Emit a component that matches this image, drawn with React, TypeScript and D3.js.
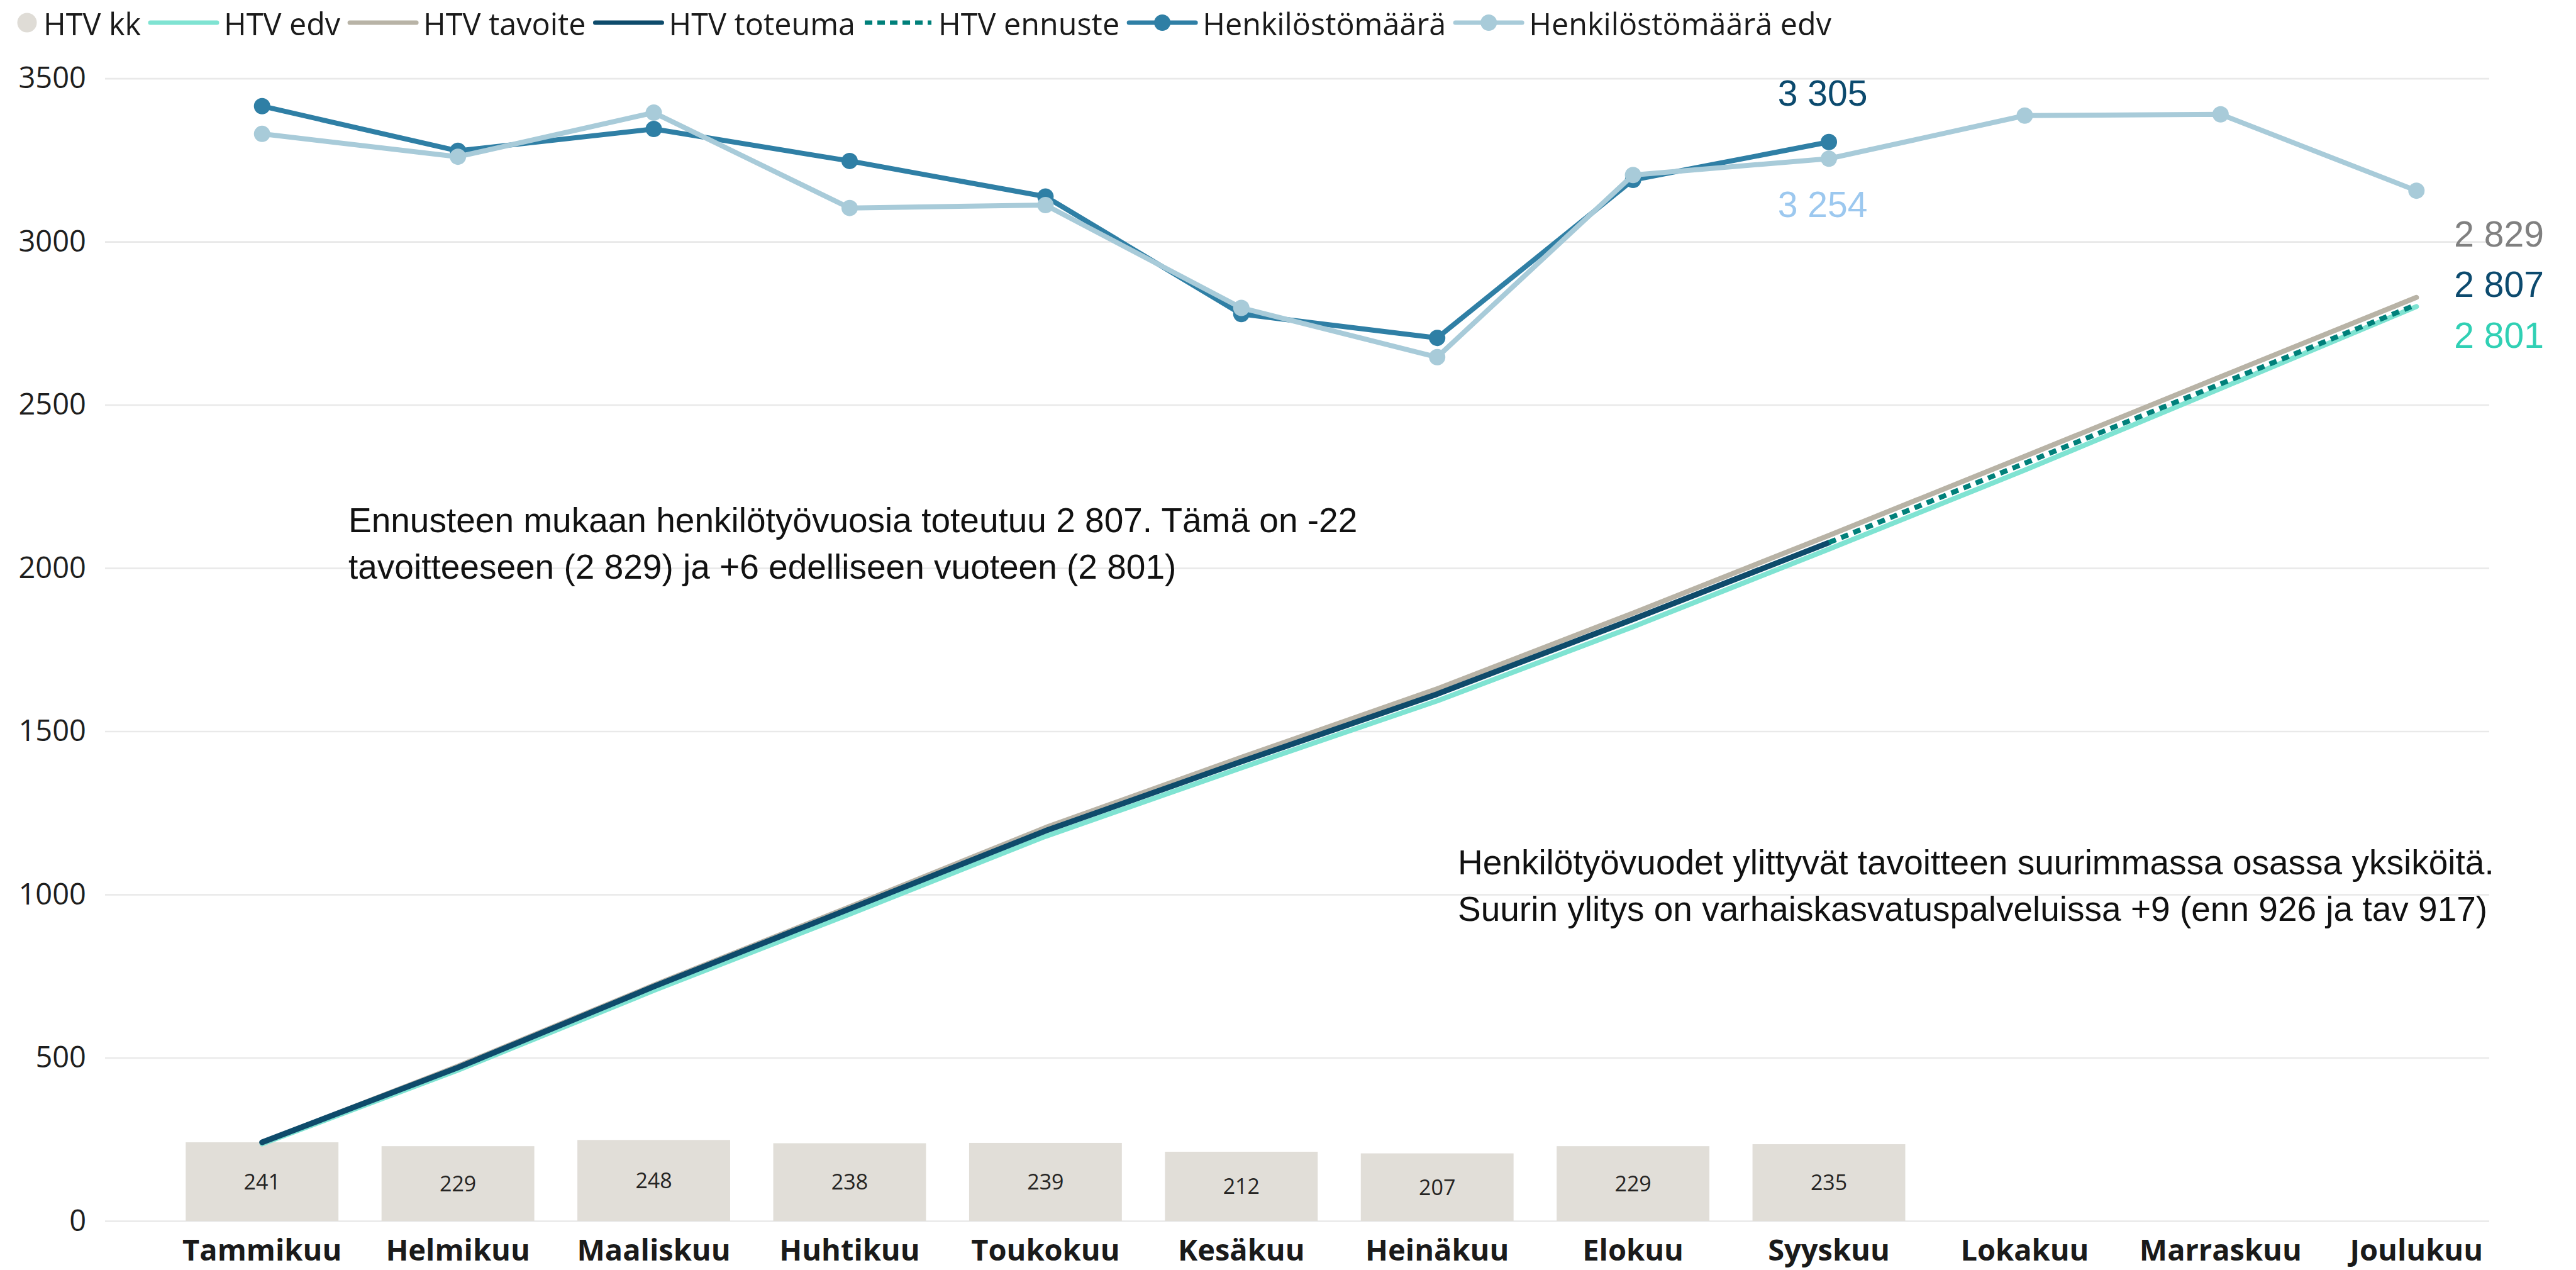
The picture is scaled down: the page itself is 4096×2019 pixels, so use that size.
import * as d3 from "d3";
import { useEffect, useRef } from "react";

const months = [
  "Tammikuu",
  "Helmikuu",
  "Maaliskuu",
  "Huhtikuu",
  "Toukokuu",
  "Kesäkuu",
  "Heinäkuu",
  "Elokuu",
  "Syyskuu",
  "Lokakuu",
  "Marraskuu",
  "Joulukuu",
];

// kuukausittaiset htv (pylväät)
const htvKk = [241, 229, 248, 238, 239, 212, 207, 229, 235];
// kumulatiiviset htv-käyrät
const htvEdv = [236, 462, 706, 940, 1178, 1388, 1593, 1820, 2058, 2300, 2550, 2801];
const htvTavoite = [240, 474, 722, 962, 1205, 1420, 1630, 1862, 2100, 2342, 2586, 2829];
const htvToteuma = [241, 470, 718, 956, 1195, 1407, 1614, 1843, 2078];
const htvEnnuste = [2078, 2321, 2564, 2807]; // Syyskuu -> Joulukuu
const henkilosto = [3415, 3278, 3345, 3247, 3138, 2778, 2705, 3189, 3305];
const henkilostoEdv = [3330, 3260, 3395, 3103, 3112, 2797, 2646, 3204, 3254, 3386, 3390, 3156];
const yTicks = [0, 500, 1000, 1500, 2000, 2500, 3000, 3500];

const legendItems = [
  { label: "HTV kk", kind: "dot", color: "#dfdcd6" },
  { label: "HTV edv", kind: "line", color: "#7fe3d2" },
  { label: "HTV tavoite", kind: "line", color: "#b8b3a6" },
  { label: "HTV toteuma", kind: "line", color: "#0e4b6b" },
  { label: "HTV ennuste", kind: "dash", color: "#00807a" },
  { label: "Henkilöstömäärä", kind: "marker", color: "#2f7fa5" },
  { label: "Henkilöstömäärä edv", kind: "marker", color: "#a8cbd9" },
];

const note1 = [
  "Ennusteen mukaan henkilötyövuosia toteutuu 2 807. Tämä on -22",
  "tavoitteeseen (2 829) ja +6 edelliseen vuoteen (2 801)",
];
const note2 = [
  "Henkilötyövuodet ylittyvät tavoitteen suurimmassa osassa yksiköitä.",
  "Suurin ylitys on varhaiskasvatuspalveluissa +9 (enn 926 ja tav 917)",
];

const W = 4096;
const H = 2019;
const uiFont = "'Open Sans', 'Noto Sans', sans-serif";
const numFont = "'Liberation Sans', Arial, sans-serif";

const fmt = (v: number) => d3.format(",")(v).replace(/,/g, " ");

export default function App() {
  const ref = useRef<SVGSVGElement>(null);

  useEffect(() => {
    document.body.style.margin = "0";
    document.body.style.overflow = "hidden";
    const svg = d3.select(ref.current);
    svg.selectAll("*").remove();

    const y = d3.scaleLinear().domain([0, 3500]).range([1941, 124.6]);
    const x = d3
      .scaleBand()
      .domain(months)
      .range([261, 3998])
      .paddingInner(0.22)
      .paddingOuter(0.11);
    const cx = (i: number) => (x(months[i]) as number) + x.bandwidth() / 2;

    //Y-akseli + ruudukko
    const gridLeft = 167;
    const gridRight = 3958;
    const yAxis = svg
      .append("g")
      .attr("transform", `translate(${gridLeft},0)`)
      .call(
        d3
          .axisLeft(y)
          .tickValues(yTicks)
          .tickSize(-(gridRight - gridLeft))
          .tickPadding(30)
          .tickFormat(d3.format("d"))
      );
    yAxis.select(".domain").remove();
    yAxis.selectAll("line").attr("stroke", "#e9e9e9").attr("stroke-width", 2.6);
    yAxis
      .selectAll("text")
      .attr("font-family", uiFont)
      .attr("font-size", 47)
      .attr("fill", "#1e1e1e");

    //X-akselin kuukaudet
    svg
      .append("g")
      .selectAll("text")
      .data(months)
      .join("text")
      .attr("x", (d, i) => cx(i))
      .attr("y", 2004)
      .attr("text-anchor", "middle")
      .attr("font-family", uiFont)
      .attr("font-weight", 700)
      .attr("font-size", 47)
      .attr("fill", "#1a1a1a")
      .text((d) => d);

    //pylväät
    svg
      .append("g")
      .selectAll("rect")
      .data(htvKk)
      .join("rect")
      .attr("x", (d, i) => x(months[i]) as number)
      .attr("y", (d) => y(d))
      .attr("width", x.bandwidth())
      .attr("height", (d) => y(0) - y(d))
      .attr("fill", "#e1ded8");

    svg
      .append("g")
      .selectAll("text")
      .data(htvKk)
      .join("text")
      .attr("x", (d, i) => cx(i))
      .attr("y", (d) => (y(d) + y(0)) / 2)
      .attr("dy", "0.36em")
      .attr("text-anchor", "middle")
      .attr("font-family", uiFont)
      .attr("font-size", 34)
      .attr("fill", "#252423")
      .text((d) => d);

    const line = (offset: number) =>
      d3
        .line<number>()
        .x((d, i) => cx(i + offset))
        .y((d) => y(d));

    const drawPath = (data: number[], offset: number, color: string, width: number, dash?: string) => {
      const p = svg
        .append("path")
        .datum(data)
        .attr("d", line(offset))
        .attr("fill", "none")
        .attr("stroke", color)
        .attr("stroke-width", width)
        .attr("stroke-linejoin", "round")
        .attr("stroke-linecap", dash ? "butt" : "round");
      if (dash) p.attr("stroke-dasharray", dash);
    };

    drawPath(htvEdv, 0, "#7fe3d2", 8);
    drawPath(htvTavoite, 0, "#b8b3a6", 8);
    drawPath(htvToteuma, 0, "#0e4b6b", 9);
    drawPath(htvEnnuste, 8, "#00807a", 8, "12 9");

    //henkilöstömäärät
    const drawMarkers = (data: number[], color: string) => {
      drawPath(data, 0, color, 8);
      svg
        .append("g")
        .selectAll("circle")
        .data(data)
        .join("circle")
        .attr("cx", (d, i) => cx(i))
        .attr("cy", (d) => y(d))
        .attr("r", 13)
        .attr("fill", color);
    };
    drawMarkers(henkilosto, "#2f7fa5");
    drawMarkers(henkilostoEdv, "#a8cbd9");

    //arvotunnisteet
    const last = henkilosto.length - 1;
    const valueLabel = (txt: string, lx: number, ly: number, color: string, anchor: string) =>
      svg
        .append("text")
        .attr("x", lx)
        .attr("y", ly)
        .attr("text-anchor", anchor)
        .attr("font-family", numFont)
        .attr("font-size", 57)
        .attr("fill", color)
        .text(txt);

    valueLabel(fmt(henkilosto[last]), cx(last) - 10, y(henkilosto[last]) - 58, "#0c4a6e", "middle");
    valueLabel(fmt(henkilostoEdv[last]), cx(last) - 10, y(henkilostoEdv[last]) + 93, "#9cc8ef", "middle");

    const endX = cx(11) + 60;
    const baseY = y(htvTavoite[11]) - 81;
    valueLabel(fmt(htvTavoite[11]), endX, baseY, "#808080", "start");
    valueLabel(fmt(htvEnnuste[htvEnnuste.length - 1]), endX, baseY + 80, "#0c4a6e", "start");
    valueLabel(fmt(htvEdv[11]), endX, baseY + 161, "#30d0b4", "start");

    //tekstilaatikot
    const note = (lines: string[], nx: number, ny: number) => {
      const t = svg
        .append("text")
        .attr("font-family", numFont)
        .attr("font-size", 55)
        .attr("fill", "#111");
      lines.forEach((l, i) => {
        t.append("tspan").attr("x", nx).attr("y", ny + i * 74).text(l);
      });
    };
    note(note1, 554, 846);
    note(note2, 2318, 1390);

    //selite
    const legend = svg.append("g");
    const symY = 36;
    const textY = 56;
    let lx = 28;
    legendItems.forEach((it) => {
      if (it.kind === "dot") {
        legend
          .append("circle")
          .attr("cx", lx + 15)
          .attr("cy", symY)
          .attr("r", 15.5)
          .attr("fill", it.color);
        lx += 41;
      } else {
        const l = legend
          .append("line")
          .attr("x1", lx)
          .attr("x2", lx + 106)
          .attr("y1", symY)
          .attr("y2", symY)
          .attr("stroke", it.color)
          .attr("stroke-width", 7);
        if (it.kind === "dash") l.attr("stroke-dasharray", "12 8");
        else l.attr("stroke-linecap", "round");
        if (it.kind === "marker") {
          legend
            .append("circle")
            .attr("cx", lx + 53)
            .attr("cy", symY)
            .attr("r", 13)
            .attr("fill", it.color);
        }
        lx += 117;
      }
      const t = legend
        .append("text")
        .attr("x", lx)
        .attr("y", textY)
        .attr("font-family", uiFont)
        .attr("font-size", 48.5)
        .attr("fill", "#1a1a1a")
        .text(it.label);
      const w = (t.node() as SVGTextElement).getComputedTextLength();
      lx += w + 15;
    });
  }, []);

  return <svg ref={ref} width={W} height={H} style={{ display: "block", background: "#fff" }} />;
}
